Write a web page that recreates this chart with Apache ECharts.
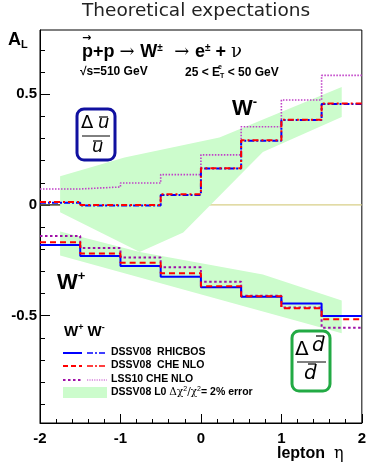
<!DOCTYPE html>
<html>
<head>
<meta charset="utf-8">
<script src="https://cdn.jsdelivr.net/npm/echarts@6/dist/echarts.min.js"></script>
<style>
html,body{margin:0;padding:0;background:#fff;}
#chart{width:369px;height:463px;}
</style>
</head>
<body>
<div id="chart"></div>
<script>
// ---- data ----
const binEdges = [-2, -1.5, -1, -0.5, 0, 0.5, 1, 1.5, 2];
const wmRhicbos = [0.010, -0.003, -0.003, 0.045, 0.164, 0.290, 0.383, 0.456];
const wmCheNlo  = [0.013, 0.000, 0.000, 0.048, 0.166, 0.292, 0.385, 0.458];
const wmLss10   = [0.072, 0.081, 0.099, 0.137, 0.226, 0.353, 0.474, 0.585];
const wpRhicbos = [-0.181, -0.231, -0.276, -0.324, -0.372, -0.415, -0.445, -0.502];
const wpCheNlo  = [-0.169, -0.219, -0.261, -0.309, -0.367, -0.412, -0.467, -0.516];
const wpLss10   = [-0.140, -0.195, -0.237, -0.282, -0.347, -0.410, -0.463, -0.555];
// error bands: [eta, A_L] outline points
const bandWmUpper = [[-1.75, 0.129], [-0.95, 0.214], [0.23, 0.304], [1.75, 0.533]];
const bandWmLower = [[-1.75, -0.033], [-0.76, -0.213], [-0.22, -0.125], [0.77, 0.239], [1.75, 0.397]];
const bandWpUpper = [[-1.75, -0.120], [-0.76, -0.213], [0.77, -0.314], [1.75, -0.432]];
const bandWpLower = [[-1.75, -0.228], [1.75, -0.580]];
const zeroLine = [[-2, 0], [2, 0]];
const zeroLineLeft = [[-2, 0], [-1.75, 0]];
const yLabelValues = [-0.5, 0, 0.5];
const yMinorValues = [-0.9, -0.8, -0.7, -0.6, -0.4, -0.3, -0.2, -0.1, 0.1, 0.2, 0.3, 0.4, 0.6, 0.7];
const legendNames = ['DSSV08  RHICBOS', 'DSSV08  CHE NLO', 'LSS10 CHE NLO'];

function steps(vals) {
  const d = vals.map((v, i) => [binEdges[i], v]);
  d.push([binEdges[binEdges.length - 1], vals[vals.length - 1]]);
  return d;
}
function bandPolygon(upper, lower) {
  return upper.concat(lower.slice().reverse());
}

const chart = echarts.init(document.getElementById('chart'), null, {renderer: 'canvas'});

const YMIN = -0.985, YMAX = 0.79;
const BLUE = '#0000ff', RED = '#ff0000', PURPLE = '#a010a8', PURPLE2 = '#c040c8';
const GREEN = '#ccfccc';

function lineSeries(vals, color, type, width, z) {
  return {
    type: 'line', step: 'end', data: steps(vals), symbol: 'none', z: z || 5,
    lineStyle: {color: color, width: width, type: type}, silent: true, animation: false
  };
}
function bandSeries(upper, lower) {
  const pts = bandPolygon(upper, lower);
  return {
    type: 'custom', data: [0], z: 1, silent: true, animation: false,
    renderItem: function (params, api) {
      return {
        type: 'polygon',
        shape: {points: pts.map(p => api.coord(p))},
        style: {fill: GREEN, stroke: null}
      };
    }
  };
}

const FONT = '"Liberation Sans", Arial, sans-serif';

const option = {
  backgroundColor: '#fff',
  animation: false,
  grid: {left: 40, right: 6, top: 30, bottom: 40, show: true, borderColor: '#000', borderWidth: 1, backgroundColor: 'transparent'},
  xAxis: {
    type: 'value', min: -2, max: 2, interval: 1,
    axisLine: {onZero: false, lineStyle: {color: '#000', width: 1}},
    axisTick: {inside: true, length: 9, lineStyle: {color: '#000'}},
    minorTick: {show: true, splitNumber: 5, length: 4, lineStyle: {color: '#000'}},
    splitLine: {show: false},
    axisLabel: {color: '#000', fontFamily: FONT, fontWeight: 'bold', fontSize: 15, margin: 8,
      formatter: v => String(v)}
  },
  yAxis: [{
    type: 'value', min: YMIN, max: YMAX,
    axisLine: {onZero: false, lineStyle: {color: '#000', width: 1}},
    axisTick: {inside: true, length: 10, customValues: yLabelValues, lineStyle: {color: '#000'}},
    splitLine: {show: false},
    axisLabel: {customValues: yLabelValues, color: '#000', fontFamily: FONT, fontWeight: 'bold', fontSize: 15, margin: 3,
      formatter: v => String(v)}
  }, {
    type: 'value', min: YMIN, max: YMAX, position: 'left',
    axisLine: {show: false, onZero: false},
    axisTick: {inside: true, length: 5, customValues: yMinorValues, lineStyle: {color: '#000'}},
    splitLine: {show: false},
    axisLabel: {show: false}
  }],
  series: [
    {type: 'line', data: zeroLine, symbol: 'none', z: 0, silent: true, lineStyle: {color: '#d8cf88', width: 1.2}},
    bandSeries(bandWmUpper, bandWmLower),
    bandSeries(bandWpUpper, bandWpLower),
    {type: 'line', data: zeroLineLeft, symbol: 'none', z: 2, silent: true, lineStyle: {color: '#000', width: 1}},
    // W- (dash-dot)
    lineSeries(wmLss10, PURPLE2, [1.5, 1.5], 1.6, 4),
    lineSeries(wmRhicbos, BLUE, [6, 2, 2, 2], 2, 5),
    lineSeries(wmCheNlo, RED, [6, 3, 2, 3], 2, 6),
    // W+
    lineSeries(wpLss10, PURPLE, [2.5, 2.5], 2, 4),
    lineSeries(wpRhicbos, BLUE, 'solid', 2, 5),
    lineSeries(wpCheNlo, RED, [6, 4], 2, 6)
  ],
  graphic: [
    // title
    {type: 'text', x: 82, y: 2, style: {text: 'Theoretical expectations', font: '18.5px "DejaVu Sans"', fill: '#222'}},
    // A_L
    {type: 'text', x: 8, y: 31, style: {
      text: '{a|A}{s|L}', rich: {
        a: {font: 'bold 18px ' + FONT, fill: '#000'},
        s: {font: 'bold 11px ' + FONT, fill: '#000', padding: [8, 0, 0, 0]}
      }}},
    // reaction
    {type: 'text', x: 82, y: 43, style: {
      text: '{b|p+p }{r|\u2192 }{b|W}{u|\u00b1}{r|  \u2192 }{b|e}{u|\u00b1}{b| + }{r|\u03bd}', rich: {
        b: {font: 'bold 18px ' + FONT, fill: '#000'},
        u: {font: 'bold 10px ' + FONT, fill: '#000', padding: [0, 0, 8, 0]},
        r: {font: '18px "DejaVu Serif"', fill: '#000'}
      }}},
    {type: 'text', x: 82, y: 33, style: {text: '\u2192', font: 'bold 11px "DejaVu Sans"', fill: '#000'}},
    {type: 'text', x: 80, y: 66, style: {text: '\u221As=510 GeV', font: 'bold 12px ' + FONT, fill: '#000'}},
    {type: 'text', x: 185, y: 66, style: {
      text: '{b|25 < E}{s|T}{b| < 50 GeV}', rich: {
        b: {font: 'bold 12px ' + FONT, fill: '#000'},
        s: {font: 'bold 7px ' + FONT, fill: '#000', padding: [7, 0, 0, 0]}
      }}},
    {type: 'text', x: 218, y: 64, style: {text: 'e', font: 'bold 7px ' + FONT, fill: '#000'}},
    // W- label
    {type: 'text', x: 232, y: 96, style: {
      text: '{b|W}{u|-}', rich: {
        b: {font: 'bold 22px ' + FONT, fill: '#000'},
        u: {font: 'bold 13px ' + FONT, fill: '#000', padding: [0, 0, 12, 0]}
      }}},
    // W+ label
    {type: 'text', x: 57, y: 270, style: {
      text: '{b|W}{u|+}', rich: {
        b: {font: 'bold 22px ' + FONT, fill: '#000'},
        u: {font: 'bold 13px ' + FONT, fill: '#000', padding: [0, 0, 12, 0]}
      }}},
    // blue box  du/u
    {type: 'rect', shape: {x: 77, y: 109, width: 38, height: 51, r: 7}, style: {fill: 'none', stroke: '#1010a0', lineWidth: 3}},
    {type: 'text', x: 81, y: 114, style: {text: '\u0394', font: '18px "DejaVu Sans"', fill: '#000'}},
    {type: 'text', x: 98, y: 114, style: {text: 'u', font: 'italic 18px "DejaVu Sans"', fill: '#000'}},
    {type: 'line', shape: {x1: 99, y1: 117, x2: 108, y2: 117}, style: {stroke: '#000', lineWidth: 1.2}},
    {type: 'line', shape: {x1: 82, y1: 136, x2: 110, y2: 136}, style: {stroke: '#000', lineWidth: 1}},
    {type: 'text', x: 92, y: 138, style: {text: 'u', font: 'italic 18px "DejaVu Sans"', fill: '#000'}},
    {type: 'line', shape: {x1: 93, y1: 141, x2: 102, y2: 141}, style: {stroke: '#000', lineWidth: 1.2}},
    // green box dd/d
    {type: 'rect', shape: {x: 292, y: 331, width: 38, height: 60, r: 7}, style: {fill: 'none', stroke: '#22aa44', lineWidth: 3}},
    {type: 'text', x: 295, y: 340, style: {text: '\u0394', font: '20px "DejaVu Sans"', fill: '#000'}},
    {type: 'text', x: 312, y: 336, style: {text: 'd', font: 'italic 20px "DejaVu Sans"', fill: '#000'}},
    {type: 'line', shape: {x1: 316, y1: 336, x2: 324, y2: 336}, style: {stroke: '#000', lineWidth: 1.2}},
    {type: 'line', shape: {x1: 297, y1: 362, x2: 326, y2: 362}, style: {stroke: '#000', lineWidth: 1}},
    {type: 'text', x: 304, y: 364, style: {text: 'd', font: 'italic 20px "DejaVu Sans"', fill: '#000'}},
    {type: 'line', shape: {x1: 308, y1: 364, x2: 316, y2: 364}, style: {stroke: '#000', lineWidth: 1.2}},
    // legend
    {type: 'text', x: 64, y: 323, style: {
      text: '{b|W}{u|+}{b| W}{u|-}', rich: {
        b: {font: 'bold 15px ' + FONT, fill: '#000'},
        u: {font: 'bold 9px ' + FONT, fill: '#000', padding: [0, 0, 8, 0]}
      }}},
    {type: 'line', shape: {x1: 63, y1: 353, x2: 82, y2: 353}, style: {stroke: BLUE, lineWidth: 2}},
    {type: 'line', shape: {x1: 87, y1: 353, x2: 107, y2: 353}, style: {stroke: BLUE, lineWidth: 1.5, lineDash: [6, 2, 2, 2]}},
    {type: 'line', shape: {x1: 63, y1: 366, x2: 82, y2: 366}, style: {stroke: RED, lineWidth: 2, lineDash: [5, 3]}},
    {type: 'line', shape: {x1: 87, y1: 366, x2: 107, y2: 366}, style: {stroke: RED, lineWidth: 1.5, lineDash: [6, 2, 2, 2]}},
    {type: 'line', shape: {x1: 63, y1: 380, x2: 82, y2: 380}, style: {stroke: PURPLE, lineWidth: 2, lineDash: [2.5, 2.5]}},
    {type: 'line', shape: {x1: 87, y1: 380, x2: 107, y2: 380}, style: {stroke: PURPLE2, lineWidth: 1.2, lineDash: [1.2, 1.2]}},
    {type: 'rect', shape: {x: 63, y: 387, width: 44, height: 11}, style: {fill: GREEN}},
    {type: 'text', x: 111, y: 347, style: {text: legendNames[0], font: 'bold 10.5px ' + FONT, fill: '#000'}},
    {type: 'text', x: 111, y: 360, style: {text: legendNames[1], font: 'bold 10.5px ' + FONT, fill: '#000'}},
    {type: 'text', x: 111, y: 374, style: {text: legendNames[2], font: 'bold 10.5px ' + FONT, fill: '#000'}},
    {type: 'text', x: 111, y: 386, style: {
      text: '{b|DSSV08 L0 }{r|\u0394\u03c7}{u|2}{r|/\u03c7}{u|2}{b|= 2% error}', rich: {
        b: {font: 'bold 10.5px ' + FONT, fill: '#000'},
        r: {font: '10.5px "DejaVu Serif"', fill: '#000'},
        u: {font: '7px ' + FONT, fill: '#000', padding: [0, 0, 6, 0]}
      }}},
    // x-axis title
    {type: 'text', x: 277, y: 446, style: {
      text: '{b|lepton  }{r|\u03b7}', rich: {
        b: {font: 'bold 16px ' + FONT, fill: '#000'},
        r: {font: '16px "DejaVu Serif"', fill: '#000'}
      }}}
  ]
};
chart.setOption(option);
</script>
</body>
</html>
